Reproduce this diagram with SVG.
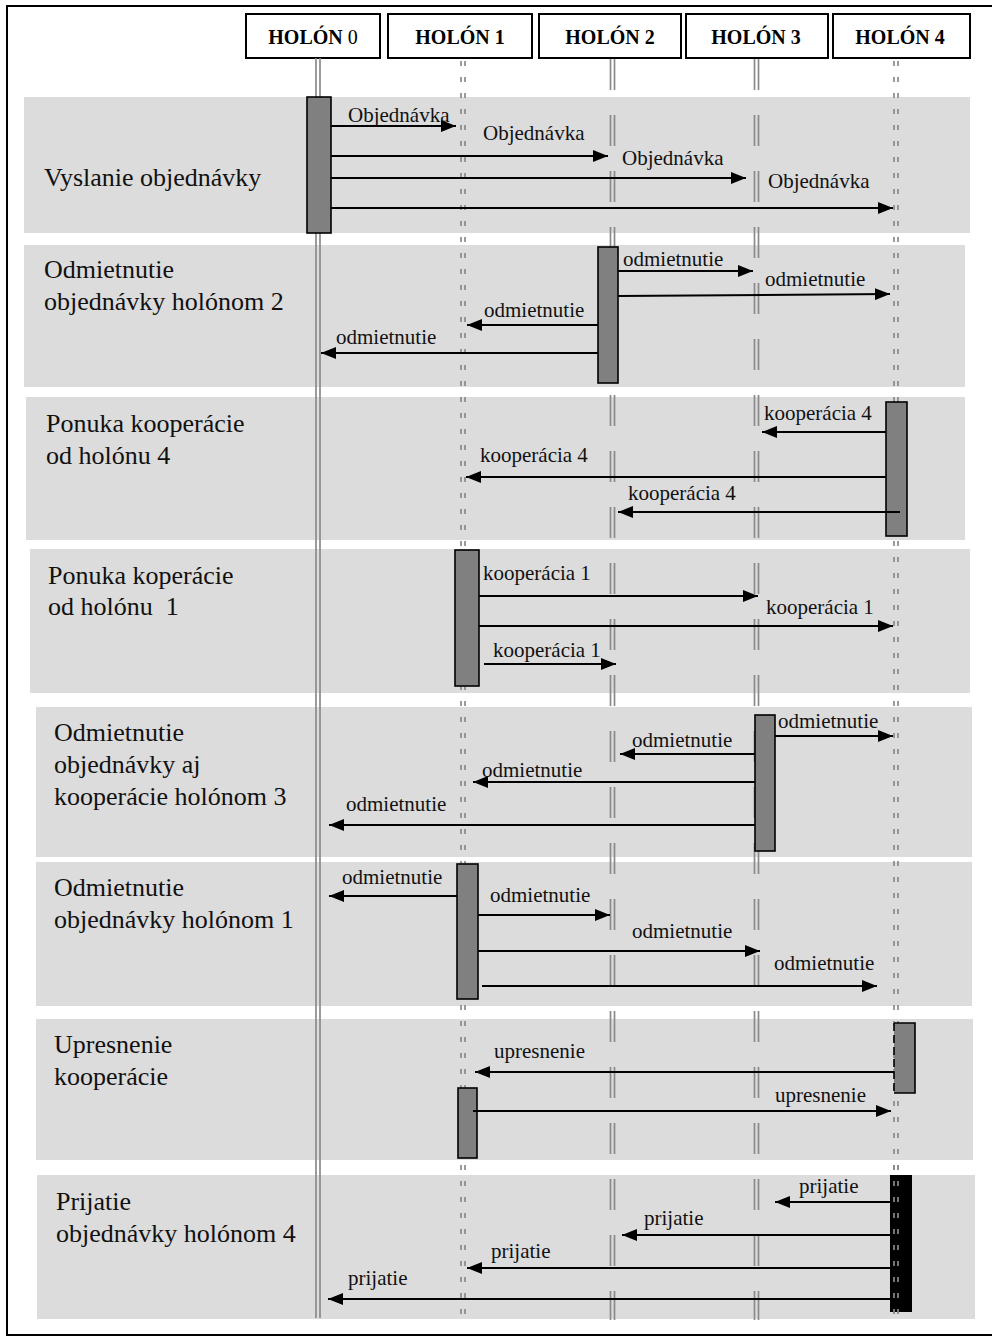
<svg xmlns="http://www.w3.org/2000/svg" width="992" height="1336" viewBox="0 0 992 1336">
  <style>
    .band { fill: #dcdcdc; }
    .head { fill: #fff; stroke: #000; stroke-width: 2; }
    .htxt { font-family: "Liberation Serif", "Times New Roman", serif; font-size: 20px; font-weight: bold; fill: #000; text-anchor: middle; }
    .life { stroke: #8a8a8a; stroke-width: 1.7; fill: none; }
    .dot { stroke-dasharray: 5 11; }
    .long { stroke-dasharray: 31 25; }
    .act { fill: #808080; stroke: #000; stroke-width: 1.6; }
    .msg { stroke: #000; stroke-width: 2; fill: none; marker-end: url(#ah); }
    .lbl { font-family: "Liberation Serif", "Times New Roman", serif; font-size: 21px; fill: #111; }
    .phase { font-family: "Liberation Serif", "Times New Roman", serif; font-size: 26px; fill: #111; white-space: pre; }
  </style>
  <defs>
    <marker id="ah" viewBox="0 0 15 12" refX="15" refY="6" markerWidth="15" markerHeight="12" markerUnits="userSpaceOnUse" orient="auto">
      <path d="M0,0 L15,6 L0,12 z" fill="#000"/>
    </marker>
  </defs>

  <rect x="0" y="0" width="992" height="1336" fill="#fff"/>
  <!-- outer frame -->
  <rect x="7" y="6" width="1000" height="1329" fill="none" stroke="#000" stroke-width="2"/>

  <!-- phase bands -->
  <g id="phases">
    <g id="phase-1"><rect class="band" x="24" y="97" width="946" height="136"/>
      <text class="phase" x="44" y="186">Vyslanie objednávky</text></g>
    <g id="phase-2"><rect class="band" x="24" y="245" width="941" height="142"/>
      <text class="phase" x="44" y="278">Odmietnutie</text>
      <text class="phase" x="44" y="310">objednávky holónom 2</text></g>
    <g id="phase-3"><rect class="band" x="26" y="397" width="939" height="143"/>
      <text class="phase" x="46" y="432">Ponuka kooperácie</text>
      <text class="phase" x="46" y="464">od holónu 4</text></g>
    <g id="phase-4"><rect class="band" x="30" y="549" width="940" height="144"/>
      <text class="phase" x="48" y="584">Ponuka koperácie</text>
      <text class="phase" x="48" y="615">od holónu  1</text></g>
    <g id="phase-5"><rect class="band" x="36" y="707" width="936" height="150"/>
      <text class="phase" x="54" y="741">Odmietnutie</text>
      <text class="phase" x="54" y="773">objednávky aj</text>
      <text class="phase" x="54" y="805">kooperácie holónom 3</text></g>
    <g id="phase-6"><rect class="band" x="36" y="862" width="936" height="144"/>
      <text class="phase" x="54" y="896">Odmietnutie</text>
      <text class="phase" x="54" y="928">objednávky holónom 1</text></g>
    <g id="phase-7"><rect class="band" x="36" y="1019" width="937" height="141"/>
      <text class="phase" x="54" y="1053">Upresnenie</text>
      <text class="phase" x="54" y="1085">kooperácie</text></g>
    <g id="phase-8"><rect class="band" x="37" y="1175" width="938" height="144"/>
      <text class="phase" x="56" y="1210">Prijatie</text>
      <text class="phase" x="56" y="1242">objednávky holónom 4</text></g>
  </g>

  <!-- holons: header, lifeline, activations -->
  <g id="holon-0">
    <rect class="head" x="246" y="14" width="134" height="44"/>
    <text class="htxt" x="313" y="44">HOLÓN <tspan font-weight="normal">0</tspan></text>
    <line class="life" x1="316" y1="58" x2="316" y2="1318"/>
    <line class="life" x1="320" y1="58" x2="320" y2="1318"/>
    <rect class="act" x="307" y="97" width="24" height="136"/>
  </g>
  <g id="holon-1">
    <rect class="head" x="388" y="14" width="144" height="44"/>
    <text class="htxt" x="460" y="44">HOLÓN 1</text>
    <line class="life dot" x1="461" y1="61" x2="461" y2="1320"/>
    <line class="life dot" x1="465" y1="61" x2="465" y2="1320"/>
    <rect class="act" x="455" y="550" width="24" height="136"/>
    <rect class="act" x="457" y="864" width="21" height="135"/>
    <rect class="act" x="458" y="1088" width="19" height="70"/>
  </g>
  <g id="holon-2">
    <rect class="head" x="539" y="14" width="142" height="44"/>
    <text class="htxt" x="610" y="44">HOLÓN 2</text>
    <line class="life long" x1="610.5" y1="59" x2="610.5" y2="1320"/>
    <line class="life long" x1="614.5" y1="59" x2="614.5" y2="1320"/>
    <rect class="act" x="598" y="247" width="20" height="136"/>
  </g>
  <g id="holon-3">
    <rect class="head" x="686" y="14" width="142" height="44"/>
    <text class="htxt" x="756" y="44">HOLÓN 3</text>
    <line class="life long" x1="754.5" y1="59" x2="754.5" y2="1320"/>
    <line class="life long" x1="758.5" y1="59" x2="758.5" y2="1320"/>
    <rect class="act" x="755" y="715" width="20" height="136"/>
  </g>
  <g id="holon-4">
    <rect class="head" x="833" y="14" width="137" height="44"/>
    <text class="htxt" x="900" y="44">HOLÓN 4</text>
    <line class="life dot" x1="894" y1="61" x2="894" y2="1320"/>
    <line class="life dot" x1="898" y1="61" x2="898" y2="1320"/>
    <rect class="act" x="886" y="402" width="21" height="134"/>
    <!-- activation with dashed left edge -->
    <rect x="894" y="1023" width="21" height="70" fill="#808080"/>
    <path d="M894,1023 H915 V1093 H894" fill="none" stroke="#000" stroke-width="1.6"/>
    <line x1="894" y1="1023" x2="894" y2="1093" stroke="#000" stroke-width="1.6" stroke-dasharray="8 4"/>
    <!-- final acceptance bar with the lifeline showing through -->
    <rect x="890" y="1175" width="22" height="137" fill="#000"/>
    <line class="life dot" x1="894" y1="1165" x2="894" y2="1316"/>
    <line class="life dot" x1="898" y1="1165" x2="898" y2="1316"/>
  </g>

  <!-- messages -->
  <g id="connectors">
    <line class="msg" x1="331" y1="126" x2="456" y2="126"/>
    <line class="msg" x1="331" y1="156" x2="608" y2="156"/>
    <line class="msg" x1="331" y1="178" x2="746" y2="178"/>
    <line class="msg" x1="331" y1="208" x2="893" y2="208"/>

    <line class="msg" x1="618" y1="271" x2="753" y2="271"/>
    <line class="msg" x1="618" y1="296" x2="890" y2="294"/>
    <line class="msg" x1="598" y1="325" x2="467" y2="325"/>
    <line class="msg" x1="598" y1="353" x2="321" y2="353"/>

    <line class="msg" x1="886" y1="432" x2="762" y2="432"/>
    <line class="msg" x1="886" y1="477" x2="466" y2="477"/>
    <line class="msg" x1="900" y1="512" x2="618" y2="512"/>

    <line class="msg" x1="479" y1="596" x2="758" y2="596"/>
    <line class="msg" x1="479" y1="626" x2="893" y2="626"/>
    <line class="msg" x1="484" y1="664" x2="616" y2="664"/>

    <line class="msg" x1="775" y1="736" x2="893" y2="736"/>
    <line class="msg" x1="755" y1="754" x2="620" y2="754"/>
    <line class="msg" x1="755" y1="782" x2="473" y2="782"/>
    <line class="msg" x1="755" y1="825" x2="329" y2="825"/>

    <line class="msg" x1="457" y1="896" x2="329" y2="896"/>
    <line class="msg" x1="478" y1="915" x2="610" y2="915"/>
    <line class="msg" x1="478" y1="951" x2="760" y2="951"/>
    <line class="msg" x1="482" y1="986" x2="877" y2="986"/>

    <line class="msg" x1="894" y1="1072" x2="475" y2="1072"/>
    <line class="msg" x1="473" y1="1111" x2="891" y2="1111"/>

    <line class="msg" x1="890" y1="1202" x2="775" y2="1202"/>
    <line class="msg" x1="890" y1="1235" x2="622" y2="1235"/>
    <line class="msg" x1="890" y1="1268" x2="467" y2="1268"/>
    <line class="msg" x1="890" y1="1299" x2="328" y2="1299"/>

    <text class="lbl" x="348" y="122">Objednávka</text>
    <text class="lbl" x="483" y="140">Objednávka</text>
    <text class="lbl" x="622" y="165">Objednávka</text>
    <text class="lbl" x="768" y="188">Objednávka</text>

    <text class="lbl" x="623" y="266">odmietnutie</text>
    <text class="lbl" x="765" y="286">odmietnutie</text>
    <text class="lbl" x="484" y="317">odmietnutie</text>
    <text class="lbl" x="336" y="344">odmietnutie</text>

    <text class="lbl" x="764" y="420">kooperácia 4</text>
    <text class="lbl" x="480" y="462">kooperácia 4</text>
    <text class="lbl" x="628" y="500">kooperácia 4</text>

    <text class="lbl" x="483" y="580">kooperácia 1</text>
    <text class="lbl" x="766" y="614">kooperácia 1</text>
    <text class="lbl" x="493" y="657">kooperácia 1</text>

    <text class="lbl" x="778" y="728">odmietnutie</text>
    <text class="lbl" x="632" y="747">odmietnutie</text>
    <text class="lbl" x="482" y="777">odmietnutie</text>
    <text class="lbl" x="346" y="811">odmietnutie</text>

    <text class="lbl" x="342" y="884">odmietnutie</text>
    <text class="lbl" x="490" y="902">odmietnutie</text>
    <text class="lbl" x="632" y="938">odmietnutie</text>
    <text class="lbl" x="774" y="970">odmietnutie</text>

    <text class="lbl" x="494" y="1058">upresnenie</text>
    <text class="lbl" x="775" y="1102">upresnenie</text>

    <text class="lbl" x="799" y="1193">prijatie</text>
    <text class="lbl" x="644" y="1225">prijatie</text>
    <text class="lbl" x="491" y="1258">prijatie</text>
    <text class="lbl" x="348" y="1285">prijatie</text>
  </g>
</svg>
